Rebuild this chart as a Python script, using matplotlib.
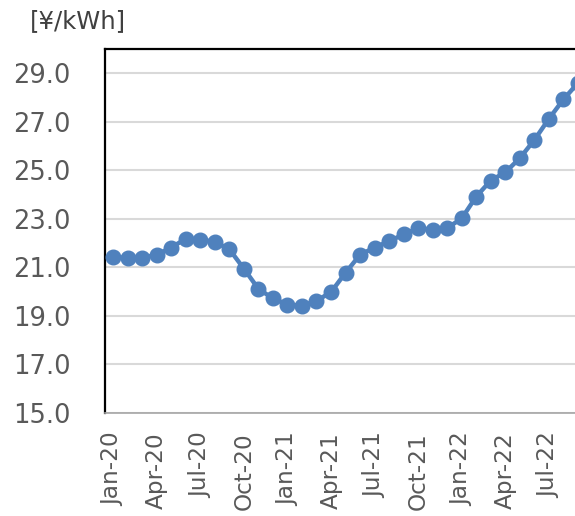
import numpy as np
import matplotlib
matplotlib.use('Agg')
import matplotlib.pyplot as plt

# monthly unit price, Jan-20 .. Sep-22
months = ['Jan-20', 'Feb-20', 'Mar-20', 'Apr-20', 'May-20', 'Jun-20', 'Jul-20', 'Aug-20', 'Sep-20',
          'Oct-20', 'Nov-20', 'Dec-20', 'Jan-21', 'Feb-21', 'Mar-21', 'Apr-21', 'May-21', 'Jun-21',
          'Jul-21', 'Aug-21', 'Sep-21', 'Oct-21', 'Nov-21', 'Dec-21', 'Jan-22', 'Feb-22', 'Mar-22',
          'Apr-22', 'May-22', 'Jun-22', 'Jul-22', 'Aug-22', 'Sep-22']
price = [21.42, 21.40, 21.40, 21.52, 21.82, 22.18, 22.15, 22.05, 21.75,
         20.95, 20.12, 19.72, 19.47, 19.42, 19.62, 19.98, 20.78, 21.52,
         21.82, 22.08, 22.36, 22.62, 22.55, 22.62, 23.02, 23.92, 24.58,
         24.92, 25.50, 26.25, 27.12, 27.92, 28.60]
yticks = [15.0, 17.0, 19.0, 21.0, 23.0, 25.0, 27.0, 29.0]

plt.rcParams['font.family'] = ['DejaVu Sans']

fig = plt.figure(figsize=(5.75, 5.16), dpi=100)
fig.patch.set_facecolor('white')
ax = fig.add_axes([0.1826, 0.1996, 0.83, 0.7054])

x = np.arange(len(months))
ax.plot(x, price, color='#4F81BD', lw=3.2, marker='o', ms=10.5, clip_on=True, zorder=3)

ax.set_ylim(15, 30)
ax.set_xlim(-0.56, 32.3)
ax.set_yticks(yticks)
ax.set_yticklabels(['%.1f' % v for v in yticks])
ax.set_xticks(x[::3])
ax.set_xticklabels(months[::3], rotation=90)
ax.yaxis.grid(True, color='#D9D9D9', lw=1.5)
ax.set_axisbelow(True)

ax.tick_params(axis='y', length=0, labelsize=18.5, colors='#595959', pad=25)
ax.tick_params(axis='x', length=0, labelsize=16.7, colors='#595959', pad=14)

for s in ['left', 'top']:
    ax.spines[s].set_color('black')
    ax.spines[s].set_linewidth(1.6)
ax.spines['bottom'].set_color('#A6A6A6')
ax.spines['bottom'].set_linewidth(1.2)
ax.spines['right'].set_visible(False)

fig.text(0.052, 0.96, '[¥/kWh]', fontsize=17.5, color='#404040', va='center', ha='left')

plt.savefig('out.png', dpi=100, facecolor='white')
